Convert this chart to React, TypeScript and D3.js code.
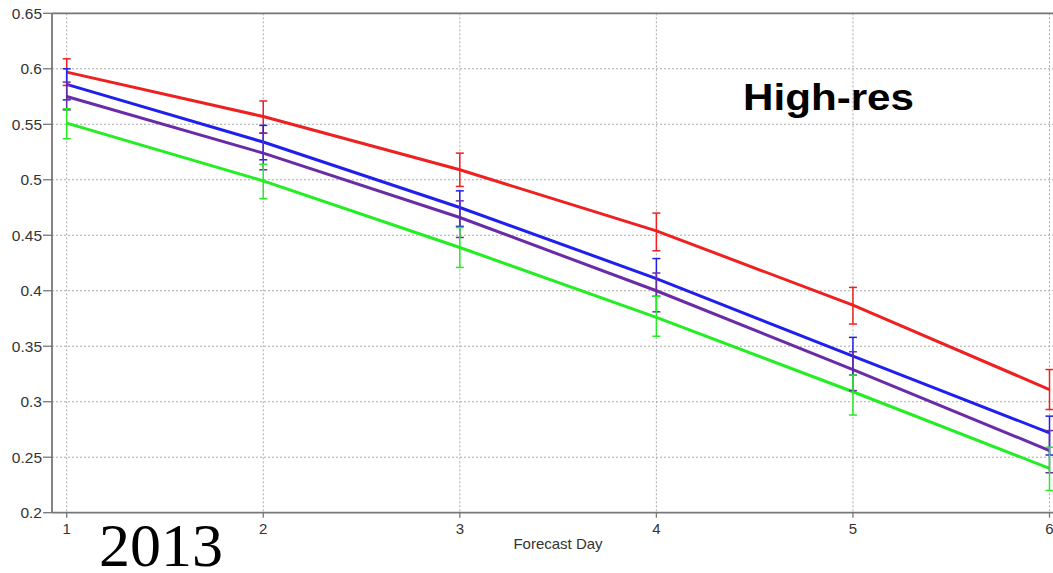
import React from "react";
import * as d3 from "d3";

const days = [1, 2, 3, 4, 5, 6];
const yTicks = [0.2, 0.25, 0.3, 0.35, 0.4, 0.45, 0.5, 0.55, 0.6, 0.65];
const yTickLabels = ["0.2", "0.25", "0.3", "0.35", "0.4", "0.45", "0.5", "0.55", "0.6", "0.65"];

const redMean = [0.597, 0.557, 0.509, 0.454, 0.387, 0.311];
const redLo = [0.585, 0.542, 0.494, 0.436, 0.370, 0.293];
const redHi = [0.609, 0.571, 0.524, 0.470, 0.403, 0.329];

const blueMean = [0.586, 0.534, 0.475, 0.411, 0.341, 0.272];
const blueLo = [0.572, 0.518, 0.458, 0.395, 0.324, 0.252];
const blueHi = [0.600, 0.549, 0.490, 0.429, 0.358, 0.287];

const purpleMean = [0.575, 0.524, 0.466, 0.400, 0.329, 0.256];
const purpleLo = [0.563, 0.509, 0.448, 0.381, 0.310, 0.236];
const purpleHi = [0.588, 0.542, 0.481, 0.416, 0.345, 0.274];

const greenMean = [0.551, 0.499, 0.439, 0.376, 0.309, 0.240];
const greenLo = [0.537, 0.483, 0.421, 0.359, 0.288, 0.220];
const greenHi = [0.564, 0.514, 0.457, 0.395, 0.324, 0.259];

const series = [
  { name: "red", color: "#ee2020", mean: redMean, lo: redLo, hi: redHi },
  { name: "blue", color: "#1f1fee", mean: blueMean, lo: blueLo, hi: blueHi },
  { name: "purple", color: "#6a2ca6", mean: purpleMean, lo: purpleLo, hi: purpleHi },
  { name: "green", color: "#22ee22", mean: greenMean, lo: greenLo, hi: greenHi },
];

export default function App() {
  const W = 1053;
  const H = 573;
  const left = 52;
  const top = 13.3;
  const bottom = 512.7;
  const x = d3.scaleLinear().domain([1, 6]).range([66.7, 1049.5]);
  const y = d3.scaleLinear().domain([0.2, 0.65]).range([bottom, top]);
  const line = d3
    .line<number>()
    .x((_, i) => x(days[i]))
    .y((d) => y(d));
  const font = "'Liberation Sans', Arial, Helvetica, sans-serif";
  return (
    <svg
      width={W}
      height={H}
      style={{ position: "absolute", left: 0, top: 0, background: "#fff" }}
    >
      <rect x={0} y={0} width={W} height={H} fill="#fff" />
      {/* grid */}
      {yTicks.slice(1).map((t) => (
        <line
          key={"gy" + t}
          x1={left}
          x2={W}
          y1={y(t)}
          y2={y(t)}
          stroke="#aaa"
          strokeWidth={1}
          strokeDasharray="2,2"
        />
      ))}
      {days.map((d) => (
        <line
          key={"gx" + d}
          x1={x(d)}
          x2={x(d)}
          y1={top}
          y2={bottom}
          stroke="#aaa"
          strokeWidth={1}
          strokeDasharray="2,2"
        />
      ))}
      {/* frame */}
      <line x1={left} x2={W} y1={top} y2={top} stroke="#777" strokeWidth={1.8} />
      <line x1={left} x2={W} y1={bottom} y2={bottom} stroke="#777" strokeWidth={1.8} />
      <line x1={left} x2={left} y1={top} y2={bottom} stroke="#777" strokeWidth={1.8} />
      {/* y ticks */}
      {yTicks.map((t, i) => (
        <g key={"yt" + t}>
          <line x1={left - 9} x2={left} y1={y(t)} y2={y(t)} stroke="#777" strokeWidth={1.3} />
          <text
            x={left - 10}
            y={y(t)}
            dy="0.36em"
            textAnchor="end"
            fontFamily={font}
            fontSize={15.5}
            fill="#333"
          >
            {yTickLabels[i]}
          </text>
        </g>
      ))}
      {/* x ticks */}
      {days.map((d) => (
        <g key={"xt" + d}>
          <line x1={x(d)} x2={x(d)} y1={bottom} y2={bottom + 5} stroke="#777" strokeWidth={1.3} />
          <text
            x={x(d)}
            y={bottom + 21}
            textAnchor="middle"
            fontFamily={font}
            fontSize={15}
            fill="#333"
          >
            {d}
          </text>
        </g>
      ))}
      <text
        x={558}
        y={549}
        textAnchor="middle"
        fontFamily={font}
        fontSize={15}
        fill="#333"
      >
        Forecast Day
      </text>
      {/* lines */}
      {series.map((s) => (
        <path
          key={"l" + s.name}
          d={line(s.mean) || ""}
          fill="none"
          stroke={s.color}
          strokeWidth={3}
        />
      ))}
      {/* error bars */}
      {series.map((s) => (
        <g key={"e" + s.name}>
          {days.map((d, i) => (
            <g key={d}>
              <line
                x1={x(d)}
                x2={x(d)}
                y1={y(s.lo[i])}
                y2={y(s.hi[i])}
                stroke={s.color}
                strokeWidth={1.5}
              />
              <line
                x1={x(d) - 4}
                x2={x(d) + 4}
                y1={y(s.lo[i])}
                y2={y(s.lo[i])}
                stroke={s.color}
                strokeWidth={1.5}
              />
              <line
                x1={x(d) - 4}
                x2={x(d) + 4}
                y1={y(s.hi[i])}
                y2={y(s.hi[i])}
                stroke={s.color}
                strokeWidth={1.5}
              />
            </g>
          ))}
        </g>
      ))}
      <g transform="translate(743,110) scale(1.14,1)">
        <text
          x={0}
          y={0}
          fontFamily={font}
          fontWeight="bold"
          fontSize={37}
          fill="#000"
        >
          High-res
        </text>
      </g>
      <text
        x={99}
        y={566}
        fontFamily="'Liberation Serif', 'Times New Roman', serif"
        fontSize={62}
        fill="#000"
      >
        2013
      </text>
    </svg>
  );
}
